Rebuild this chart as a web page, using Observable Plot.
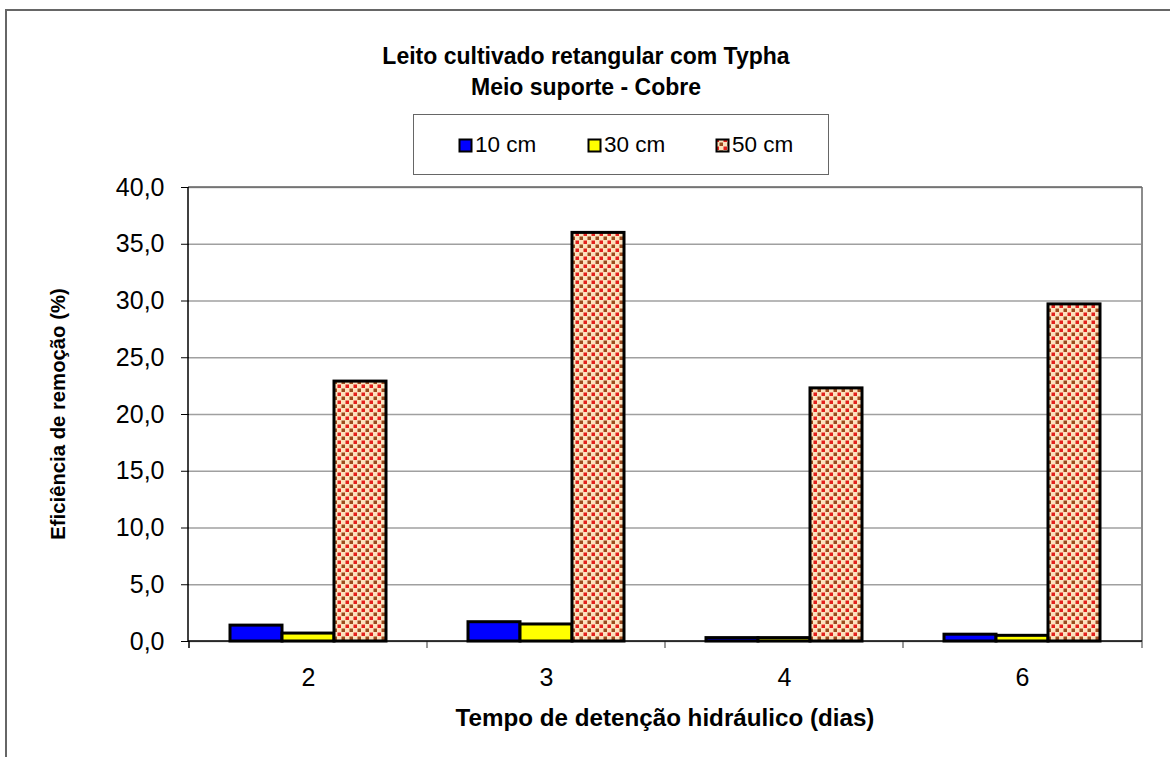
<!DOCTYPE html>
<html>
<head>
<meta charset="utf-8">
<script src="https://cdn.jsdelivr.net/npm/d3@7"></script>
<script src="https://cdn.jsdelivr.net/npm/@observablehq/plot@0.6"></script>
<style>
  html, body { margin: 0; padding: 0; background: #fff; }
  body { font-family: "Liberation Sans", Arial, sans-serif; }
  #wrap { position: relative; width: 1170px; height: 757px; overflow: hidden; }
  #chart { position: absolute; left: 0; top: 0; }
  #frame { position: absolute; left: 5px; top: 9px; right: -10px; bottom: -10px;
           border-left: 2px solid #666; border-top: 2px solid #666; }
  .title { position: absolute; left: 0; width: 1172px; text-align: center; font-weight: bold; font-size: 23px; line-height: 26px; color: #000; }
  #legend { position: absolute; left: 413px; top: 114px; width: 414px; height: 59px; border: 1.5px solid #666; background: #fff; }
  .item { position: absolute; top: 17px; font-size: 22.5px; line-height: 26px; display: flex; align-items: center; }
  .item svg { margin-right: 2px; }
  #xlabel { position: absolute; left: 365px; width: 600px; top: 704px; text-align: center; font-weight: bold; font-size: 24.2px; line-height: 28px; white-space: nowrap; }
  #ylabel { position: absolute; left: 58px; top: 414px; transform: translate(-50%, -50%) rotate(-90deg); font-weight: bold; font-size: 20.3px; white-space: nowrap; }
</style>
</head>
<body>
<div id="wrap">
  <svg width="0" height="0" style="position:absolute">
    <defs>
      <pattern id="cobrePattern" patternUnits="userSpaceOnUse" width="8" height="8">
        <rect width="8" height="8" fill="#fde3bf"></rect>
        <rect x="0.5" y="0.5" width="3.5" height="3.5" fill="#e3201c"></rect>
        <rect x="4.5" y="4.5" width="3.5" height="3.5" fill="#9a4a1e"></rect>
      </pattern>
    </defs>
  </svg>
  <div id="frame"></div>
  <div id="chart"></div>
  <div class="title" style="top:43px">Leito cultivado retangular com Typha</div>
  <div class="title" style="top:74px">Meio suporte - Cobre</div>
  <div id="legend"></div>
  <div id="xlabel">Tempo de detenção hidráulico (dias)</div>
  <div id="ylabel">Eficiência de remoção (%)</div>
</div>
<script>
// ---- data ----
const categories = ["2", "3", "4", "6"];
const series = ["10 cm", "30 cm", "50 cm"];
const values10 = [1.4, 1.7, 0.3, 0.6];
const values30 = [0.7, 1.5, 0.3, 0.5];
const values50 = [22.9, 36.0, 22.3, 29.7];
const yTicks = [0, 5, 10, 15, 20, 25, 30, 35, 40];
const seriesColors = ["#0000ff", "#ffff00", "url(#cobrePattern)"];

const data = [];
categories.forEach((c, i) => {
  data.push({tempo: c, serie: series[0], valor: values10[i]});
  data.push({tempo: c, serie: series[1], valor: values30[i]});
  data.push({tempo: c, serie: series[2], valor: values50[i]});
});

const fmt = d => d.toFixed(1).replace(".", ",");

const plot = Plot.plot({
  width: 1170,
  height: 757,
  marginLeft: 188,
  marginRight: 28,
  marginTop: 187,
  marginBottom: 116,
  style: {fontSize: "25px", fontFamily: "'Liberation Sans', Arial, sans-serif", color: "#000", background: "transparent"},
  fx: {domain: categories, padding: 0, axis: "bottom", label: null, tickSize: 0, tickPadding: 27},
  x: {domain: series, paddingInner: 0, paddingOuter: 0.75, axis: null},
  y: {domain: [0, 40], ticks: yTicks, tickFormat: fmt, tickSize: 8, tickPadding: 17, label: null},
  color: {type: "ordinal", domain: series, range: seriesColors},
  marks: [
    Plot.ruleY(yTicks, {stroke: "#a0a0a0", strokeWidth: 1.5}),
    Plot.barY(data, {fx: "tempo", x: "serie", y: "valor", fill: "serie", stroke: "#000", strokeWidth: 3})
  ]
});
document.getElementById("chart").appendChild(plot);

// axis lines and category boundary ticks, from the plot's own scales
const svg = plot.tagName.toLowerCase() === "svg" ? plot : plot.querySelector("svg");
const ys = plot.scale("y");
const fxs = plot.scale("fx");
const y0 = ys.apply(0), yTop = ys.apply(40);
const xl = fxs.range[0], xr = fxs.range[1];
const g = d3.select(svg).append("g");
const edges = categories.map(c => fxs.apply(c)).concat([xr]);
edges.forEach((x, i) => {
  g.append("line").attr("x1", x).attr("x2", x).attr("y1", y0).attr("y2", y0 + 7)
    .attr("stroke", i === 0 ? "#000" : "#777").attr("stroke-width", 1.5);
});
g.append("line").attr("x1", xl).attr("x2", xr).attr("y1", yTop).attr("y2", yTop).attr("stroke", "#666").attr("stroke-width", 1.5);
g.append("line").attr("x1", xr).attr("x2", xr).attr("y1", yTop).attr("y2", y0).attr("stroke", "#666").attr("stroke-width", 1.5);
g.append("line").attr("x1", xl).attr("x2", xr).attr("y1", y0).attr("y2", y0).attr("stroke", "#000").attr("stroke-width", 1.5);
g.append("line").attr("x1", xl).attr("x2", xl).attr("y1", yTop).attr("y2", y0).attr("stroke", "#000").attr("stroke-width", 1.5);

// legend
const legend = document.getElementById("legend");
const lefts = [44, 173, 301];
series.forEach((s, i) => {
  const item = document.createElement("div");
  item.className = "item";
  item.style.left = lefts[i] + "px";
  item.innerHTML = `<svg width="15" height="15"><rect x="1.5" y="1.5" width="12" height="12" fill="${seriesColors[i]}" stroke="#000" stroke-width="2"></rect></svg><span>${s}</span>`;
  legend.appendChild(item);
});
</script>
</body>
</html>
